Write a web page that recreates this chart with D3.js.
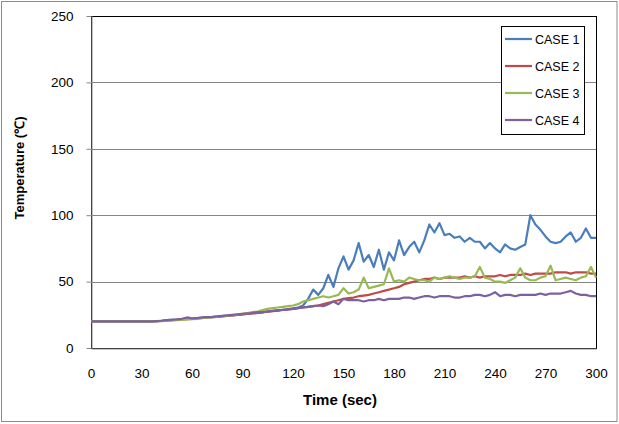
<!DOCTYPE html>
<html>
<head>
<meta charset="utf-8">
<script src="https://cdn.jsdelivr.net/npm/d3@7"></script>
<style>
  body { margin: 0; background: #fff; }
  text { font-family: "Liberation Sans", Arial, sans-serif; }
</style>
</head>
<body>
<div id="chart"></div>
<script>
// sampling grid, seconds (every 3 s)
const times = d3.range(0, 301, 3);

const seriesNames = ["CASE 1", "CASE 2", "CASE 3", "CASE 4"];
const seriesColors = ["#4A7EBB", "#BE4B48", "#98B954", "#7D60A0"];

const xTicks = [0, 30, 60, 90, 120, 150, 180, 210, 240, 270, 300];
const yTicks = [0, 50, 100, 150, 200, 250];

// values (deg C)
const case1 = [
  20, 20, 20, 20, 20, 20, 20, 20, 20, 20, 20, 20, 20,
  20.2, 20.5, 20.8, 21, 21.3, 21.6, 22, 22.2, 22.5, 22.8,
  23, 23.3, 23.6, 24, 24.3, 24.5, 25, 25.3, 25.8, 26.2,
  26.5, 27, 27.5, 28, 28.4, 28.8, 29.3, 29.8, 30.5, 32,
  37, 44, 40, 45, 55, 46, 60, 69, 59, 66,
  79, 65, 70, 61, 74, 59, 72, 66, 81, 70,
  76, 80, 72, 81, 93, 87, 94, 85, 86, 83,
  84, 80, 83, 80, 80, 75, 79, 75, 72, 78,
  75, 74, 76, 78, 100, 93, 89, 84, 80, 79,
  80, 84, 87, 80, 83, 90, 83, 83
];
const case2 = [
  20, 20, 20, 20, 20, 20, 20, 20, 20, 20, 20, 20, 20,
  20.2, 20.4, 20.7, 21, 21.2, 21.5, 21.8, 22, 22.3, 22.6,
  23, 23.2, 23.5, 23.8, 24.2, 24.5, 25, 25.3, 25.7, 26,
  26.5, 27, 27.4, 27.8, 28.2, 28.6, 29, 29.5, 30, 30.5,
  31, 31.5, 32, 33, 34, 35, 36, 37, 37.5, 38,
  39, 39.5, 40, 41, 42, 43, 44, 45, 46, 48,
  49, 50, 51, 52, 52, 53, 52, 53, 53, 53,
  53, 54, 53, 54, 53, 54, 54, 54, 55, 54,
  55, 55, 55, 56, 55, 56, 56, 56, 56, 57,
  57, 57, 56, 57, 57, 57, 56, 56
];
const case3 = [
  20, 20, 20, 20, 20, 20, 20, 20, 20, 20, 20, 20, 20,
  20.1, 20.3, 20.5, 20.7, 21, 21.2, 21.5, 21.8, 22, 22.4,
  22.8, 23.2, 23.5, 24, 24.4, 24.8, 25.2, 25.8, 26.3, 27,
  27.5, 28.5, 29.5, 30, 30.5, 31, 31.5, 32, 33, 35,
  36, 37, 38, 39, 38, 39, 40, 45, 41, 42,
  44, 53, 45, 46, 47, 48, 60, 50, 51, 50,
  53, 52, 51, 51, 50, 53, 52, 53, 54, 53,
  52, 53, 53, 54, 61, 53, 52, 50, 50, 49,
  51, 53, 60, 53, 51, 51, 53, 54, 62, 51,
  52, 53, 52, 51, 53, 54, 61, 53
];
const case4 = [
  20, 20, 20, 20, 20, 20, 20, 20, 20, 20, 20, 20, 20,
  20.3, 20.5, 21, 21.3, 21.6, 22, 23, 22.3, 22.5, 23,
  23.3, 23.5, 23.8, 24.2, 24.5, 25, 25.3, 25.8, 26, 26.5,
  27, 26.8, 27.5, 28, 28.3, 28.8, 29, 29.5, 30, 30.5,
  31, 31.5, 32, 31.5, 33, 35, 33, 37, 36, 36,
  36, 35, 36, 36, 37, 36, 37, 37, 37, 38,
  38, 37, 38, 39, 39, 38, 39, 39, 39, 38,
  38, 39, 39, 40, 40, 39, 40, 42, 39, 40,
  40, 39, 40, 40, 40, 40, 41, 40, 41, 41,
  41, 42, 43, 41, 40, 40, 39, 39
];
const allCases = [case1, case2, case3, case4];

const W = 619, H = 424;
const margin = { top: 16, right: 23, bottom: 76, left: 91 },
  width = 596 - margin.left,
  height = 348 - margin.top;

const svg = d3.select("#chart").append("svg")
  .attr("width", W).attr("height", H);

// outer chart border
svg.append("rect")
  .attr("x", 1.5).attr("y", 1.5)
  .attr("width", 615.5).attr("height", 420)
  .attr("fill", "#fff").attr("stroke", "#8c8c8c");

const g = svg.append("g")
  .attr("transform", "translate(" + margin.left + "," + margin.top + ")");

const x = d3.scaleLinear().domain([0, 300]).range([0, width]);
const y = d3.scaleLinear().domain([0, 250]).range([height, 0]);

// plot area border (top/right black)
g.append("rect")
  .attr("x", 0.5).attr("y", 0.5)
  .attr("width", width).attr("height", height)
  .attr("fill", "none").attr("stroke", "#000");

// gridlines
g.selectAll(".grid").data(yTicks.filter(d => d > 0 && d < 250))
  .enter().append("line")
  .attr("x1", 0).attr("x2", width)
  .attr("y1", d => Math.round(y(d)) + 0.5).attr("y2", d => Math.round(y(d)) + 0.5)
  .attr("stroke", "#868686");

// y axis
const yAxis = g.append("g")
  .attr("transform", "translate(0.5,0)")
  .call(d3.axisLeft(y).tickValues(yTicks).tickSize(5).tickPadding(13).tickSizeOuter(0));
yAxis.select(".domain").attr("stroke", "#868686");
yAxis.selectAll(".tick line").attr("stroke", "#868686");
yAxis.selectAll(".tick text").attr("font-size", 13.5).attr("fill", "#000")
  .attr("font-family", "Liberation Sans, Arial, sans-serif");

// x axis
const xAxis = g.append("g")
  .attr("transform", "translate(0," + (height + 0.5) + ")")
  .call(d3.axisBottom(x).tickValues(xTicks).tickSize(0).tickPadding(20).tickSizeOuter(0));
xAxis.select(".domain").attr("stroke", "#868686");
xAxis.selectAll(".tick text").attr("font-size", 13.5).attr("fill", "#000")
  .attr("font-family", "Liberation Sans, Arial, sans-serif");

// lines
const line = d3.line()
  .x((d, i) => x(times[i]))
  .y(d => y(d));

allCases.forEach((vals, k) => {
  g.append("path")
    .datum(vals)
    .attr("fill", "none")
    .attr("stroke", seriesColors[k])
    .attr("stroke-width", 2.2)
    .attr("stroke-linejoin", "round")
    .attr("d", line);
});

// axis titles
svg.append("text")
  .attr("x", 340).attr("y", 405)
  .attr("text-anchor", "middle")
  .attr("font-size", 15).attr("font-weight", "bold")
  .text("Time (sec)");

svg.append("text")
  .attr("transform", "translate(24,168) rotate(-90)")
  .attr("text-anchor", "middle")
  .attr("font-size", 13).attr("font-weight", "bold")
  .text("Temperature (℃)");

// legend
const legend = svg.append("g");
legend.append("rect")
  .attr("x", 501.5).attr("y", 26.5)
  .attr("width", 83).attr("height", 108)
  .attr("fill", "#fff").attr("stroke", "#000");

seriesNames.forEach((name, k) => {
  const ly = 39 + k * 27;
  legend.append("line")
    .attr("x1", 505).attr("x2", 532)
    .attr("y1", ly).attr("y2", ly)
    .attr("stroke", seriesColors[k]).attr("stroke-width", 2.2);
  legend.append("text")
    .attr("x", 535).attr("y", ly + 4.5)
    .attr("font-size", 12.5)
    .text(name);
});
</script>
</body>
</html>
